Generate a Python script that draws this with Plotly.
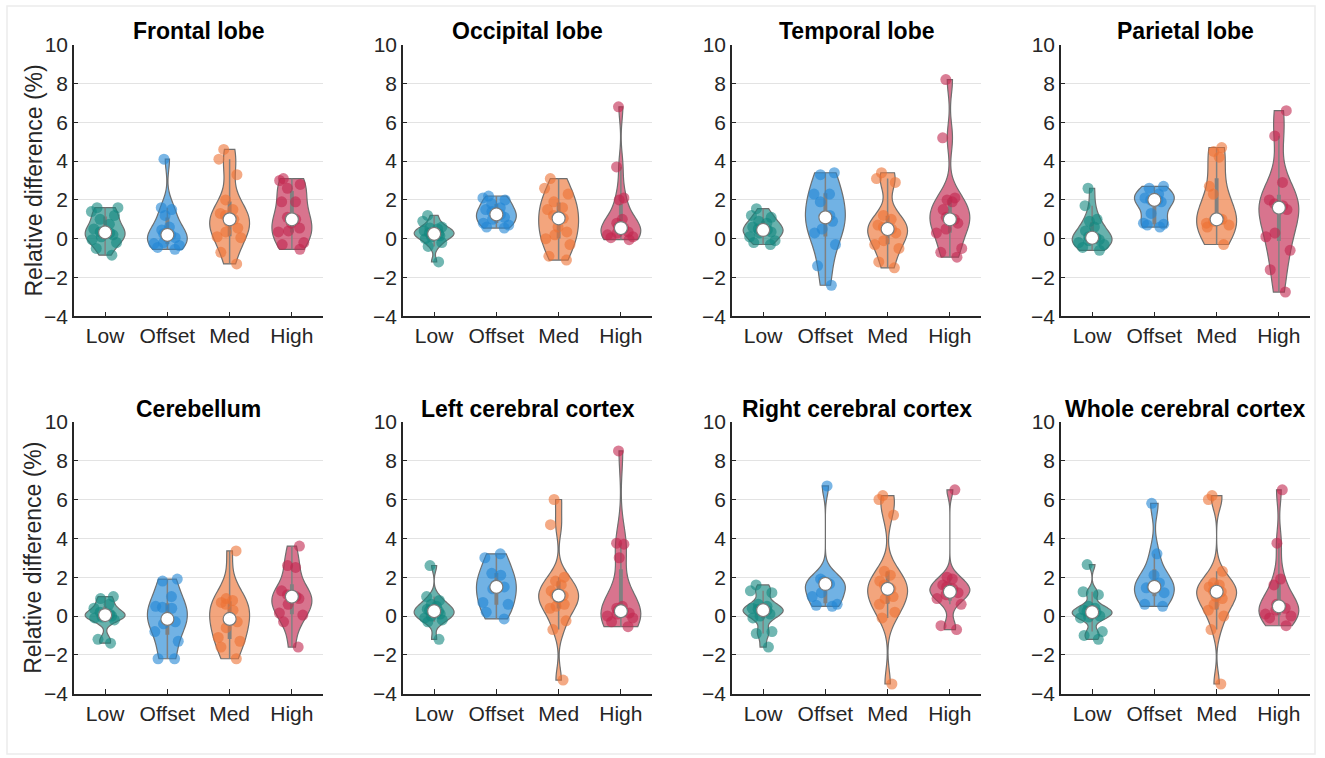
import numpy as np
import plotly.graph_objects as go

W, H = 1325, 758

titles = ["Frontal lobe", "Occipital lobe", "Temporal lobe", "Parietal lobe",
          "Cerebellum", "Left cerebral cortex", "Right cerebral cortex", "Whole cerebral cortex"]
groups = ["Low", "Offset", "Med", "High"]
colors = ["#12877f", "#2186d4", "#ec7234", "#c2264e"]
y_ticks = [-4, -2, 0, 2, 4, 6, 8, 10]

# Frontal lobe
frontal_low = [1.6, 1.6, 1.4, 1.2, 1.0, 0.75, 0.5, 0.35, 0.3, 0.25, 0.2, 0.1, -0.05, -0.2, -0.5, -0.85]
frontal_offset = [4.1, 1.6, 1.5, 1.2, 0.6, 0.45, 0.25, 0.2, 0.1, 0.05, -0.2, -0.25, -0.35, -0.45, -0.55]
frontal_med = [4.6, 4.1, 3.3, 2.0, 1.5, 1.3, 1.2, 1.0, 0.85, 0.55, 0.35, 0.1, 0.05, -0.7, -1.3]
frontal_high = [3.1, 3.0, 2.8, 2.6, 1.9, 1.9, 1.1, 1.0, 0.8, 0.55, 0.4, 0.35, -0.2, -0.3, -0.55]
# Occipital lobe
occipital_low = [1.2, 0.9, 0.6, 0.55, 0.5, 0.4, 0.3, 0.25, 0.2, 0.15, 0.1, 0.0, -0.2, -0.4, -1.2]
occipital_offset = [2.2, 2.1, 2.0, 1.8, 1.6, 1.5, 1.4, 1.25, 1.2, 1.1, 1.0, 0.8, 0.7, 0.6, 0.55]
occipital_med = [3.1, 2.6, 2.3, 1.9, 1.6, 1.5, 1.2, 1.05, 0.6, 0.35, 0.2, 0.0, -0.3, -0.9, -1.1]
occipital_high = [6.8, 3.7, 2.1, 2.0, 1.0, 0.8, 0.6, 0.55, 0.45, 0.35, 0.3, 0.2, 0.1, 0.05, -0.05]
# Temporal lobe
temporal_low = [1.55, 1.2, 1.1, 0.9, 0.8, 0.6, 0.5, 0.45, 0.4, 0.35, 0.3, 0.1, -0.1, -0.2, -0.3]
temporal_offset = [3.4, 3.3, 2.3, 2.3, 1.9, 1.2, 1.1, 0.9, 0.5, 0.3, -0.3, -1.4, -2.4]
temporal_med = [3.4, 3.1, 2.9, 1.2, 1.0, 0.7, 0.6, 0.5, 0.4, 0.3, -0.1, -0.3, -0.5, -1.2, -1.5]
temporal_high = [8.2, 5.2, 2.1, 2.0, 1.9, 1.5, 1.1, 1.0, 0.95, 0.8, 0.5, 0.3, -0.5, -0.7, -0.95]
# Parietal lobe
parietal_low = [2.6, 1.7, 1.0, 0.9, 0.6, 0.4, 0.1, 0.05, 0.0, -0.05, -0.1, -0.2, -0.3, -0.45, -0.6]
parietal_offset = [2.7, 2.6, 2.3, 2.1, 2.0, 2.0, 2.0, 1.9, 1.3, 0.8, 0.75, 0.7, 0.6]
parietal_med = [4.7, 4.5, 4.2, 2.7, 2.3, 1.0, 1.0, 1.0, 0.9, 0.8, 0.7, 0.6, -0.3]
parietal_high = [6.6, 5.3, 2.9, 2.0, 1.8, 1.7, 1.6, 1.5, 0.3, 0.1, -0.6, -1.6, -2.75]
# Cerebellum
cerebellum_low = [1.0, 0.9, 0.6, 0.4, 0.2, 0.1, 0.05, 0.0, -0.05, -0.1, -0.2, -1.2, -1.4]
cerebellum_offset = [1.9, 1.8, 1.0, 0.5, 0.45, 0.4, -0.15, -0.3, -0.4, -0.8, -1.3, -2.2, -2.2]
cerebellum_med = [3.35, 0.9, 0.8, 0.7, 0.6, 0.3, -0.15, -0.3, -0.6, -1.1, -1.3, -1.6, -2.2]
cerebellum_high = [3.6, 2.6, 2.5, 1.3, 1.1, 1.0, 1.0, 0.9, 0.6, 0.15, 0.05, -0.3, -1.6]
# Left cerebral cortex
left_low = [2.6, 1.0, 0.8, 0.6, 0.5, 0.35, 0.3, 0.25, 0.2, 0.1, 0.0, -0.1, -0.2, -0.3, -1.2]
left_offset = [3.2, 3.0, 2.2, 2.1, 1.6, 1.5, 1.4, 0.7, 0.6, 0.2, -0.15]
left_med = [6.0, 4.7, 2.0, 1.8, 1.6, 1.3, 1.1, 1.05, 0.9, 0.6, 0.5, 0.4, -0.25, -0.7, -3.3]
left_high = [8.5, 3.75, 3.7, 3.0, 0.5, 0.4, 0.3, 0.25, 0.2, 0.15, 0.1, 0.0, -0.1, -0.3, -0.55]
# Right cerebral cortex
right_low = [1.6, 1.3, 1.2, 0.6, 0.5, 0.4, 0.35, 0.3, 0.25, 0.1, 0.0, -0.1, -0.8, -0.9, -1.6]
right_offset = [6.7, 1.9, 1.8, 1.7, 1.65, 1.65, 1.2, 1.0, 0.6, 0.55, 0.5]
right_med = [6.2, 6.0, 5.2, 2.3, 2.1, 1.8, 1.6, 1.4, 1.3, 1.0, 0.9, 0.6, 0.2, -0.1, -3.5]
right_high = [6.5, 2.0, 1.9, 1.6, 1.5, 1.4, 1.25, 1.2, 1.1, 0.9, 0.6, -0.5, -0.7]
# Whole cerebral cortex
whole_low = [2.65, 1.25, 1.1, 0.5, 0.4, 0.3, 0.25, 0.2, 0.1, 0.0, -0.05, -0.1, -0.8, -1.0, -1.2]
whole_offset = [5.8, 3.2, 2.1, 1.7, 1.5, 1.45, 1.2, 0.6, 0.5]
whole_med = [6.2, 6.0, 2.3, 1.7, 1.6, 1.5, 1.3, 1.25, 1.0, 0.9, 0.6, 0.3, 0.0, -0.7, -3.5]
whole_high = [6.5, 3.75, 1.9, 1.6, 0.6, 0.5, 0.5, 0.4, 0.3, 0.1, 0.0, -0.1, -0.5]

panels = [
    [frontal_low, frontal_offset, frontal_med, frontal_high],
    [occipital_low, occipital_offset, occipital_med, occipital_high],
    [temporal_low, temporal_offset, temporal_med, temporal_high],
    [parietal_low, parietal_offset, parietal_med, parietal_high],
    [cerebellum_low, cerebellum_offset, cerebellum_med, cerebellum_high],
    [left_low, left_offset, left_med, left_high],
    [right_low, right_offset, right_med, right_high],
    [whole_low, whole_offset, whole_med, whole_high],
]


def hex_rgba(h, a):
    h = h.lstrip("#")
    r, g, b = int(h[0:2], 16), int(h[2:4], 16), int(h[4:6], 16)
    return f"rgba({r},{g},{b},{a})"


col_px = [(74, 323), (403, 652), (732, 981), (1061, 1310)]
row_px = [(44.7, 316.3), (421.8, 693.7)]
title_y_px = [31, 409]

FONT = "Liberation Sans, Arial, Helvetica, sans-serif"
fig = go.Figure()
layout = dict(
    width=W, height=H, autosize=False, margin=dict(l=0, r=0, t=0, b=0, pad=0),
    paper_bgcolor="white", plot_bgcolor="white", showlegend=False,
    font=dict(family=FONT, color="#262626", size=21),
    violinmode="overlay",
)
annotations = []

for p, data in enumerate(panels):
    r, c = divmod(p, 4)
    idx = p + 1
    xa = "x" if idx == 1 else f"x{idx}"
    ya = "y" if idx == 1 else f"y{idx}"
    x0, x1 = col_px[c]
    yt, yb = row_px[r]
    layout[f"xaxis{'' if idx == 1 else idx}"] = dict(
        domain=[x0 / W, x1 / W], anchor=ya, range=[0.5, 4.5],
        tickmode="array", tickvals=[1, 2, 3, 4], ticktext=groups,
        ticks="inside", ticklen=5, tickwidth=1, tickcolor="#262626",
        showline=True, linecolor="#262626", linewidth=1.5, mirror=False,
        showgrid=False, zeroline=False, fixedrange=True, automargin=False,
        tickfont=dict(size=21, color="#262626"),
    )
    layout[f"yaxis{'' if idx == 1 else idx}"] = dict(
        domain=[1 - yb / H, 1 - yt / H], anchor=xa, range=[-4, 10],
        tickmode="array", tickvals=y_ticks,
        ticks="inside", ticklen=4, tickwidth=1, tickcolor="#262626",
        showline=True, linecolor="#262626", linewidth=1.5,
        showgrid=True, gridcolor="#e3e3e3", gridwidth=1.2,
        zeroline=False, fixedrange=True, automargin=False,
        tickfont=dict(size=21, color="#262626"),
    )
    for g, vals in enumerate(data):
        col = colors[g]
        fig.add_trace(go.Violin(
            x=[g + 1] * len(vals), y=vals, xaxis=xa, yaxis=ya,
            width=0.64, scalemode="width", spanmode="hard",
            fillcolor=hex_rgba(col, 0.64), line=dict(color="#6e6e6e", width=1.2),
            points="all", pointpos=0, jitter=0.8,
            marker=dict(color=hex_rgba(col, 0.6), size=11, line=dict(width=0)),
            box=dict(visible=True, width=0.06, fillcolor="#808080",
                     line=dict(color="#808080", width=1.5)),
            meanline=dict(visible=False),
            hoverinfo="y", name=groups[g],
        ))
        fig.add_trace(go.Scatter(
            x=[g + 1], y=[float(np.median(vals))], xaxis=xa, yaxis=ya,
            mode="markers",
            marker=dict(color="white", size=13, line=dict(color="#7a7a7a", width=1.2)),
            hoverinfo="skip",
        ))
    annotations.append(dict(
        text=f"<b>{titles[p]}</b>", x=(x0 + x1) / 2 / W, y=1 - title_y_px[r] / H,
        xref="paper", yref="paper", showarrow=False, xanchor="center", yanchor="middle",
        font=dict(size=23, color="#000000", family=FONT),
    ))

for r in range(2):
    yt, yb = row_px[r]
    annotations.append(dict(
        text="Relative difference (%)", x=33 / W, y=1 - ((yt + yb) / 2) / H,
        xref="paper", yref="paper", showarrow=False, textangle=-90,
        xanchor="center", yanchor="middle",
        font=dict(size=23, color="#262626", family=FONT),
    ))

layout["annotations"] = annotations
layout["shapes"] = [dict(type="rect", xref="paper", yref="paper",
                         x0=7 / W, x1=1315 / W, y0=1 - 754 / H, y1=1 - 6 / H,
                         line=dict(color="#ececec", width=1.5), layer="below")]
fig.update_layout(**layout)
fig.write_html(
    "out.html",
    config={"responsive": False, "displayModeBar": False},
    post_script="document.body.style.margin='0';document.body.style.padding='0';"
                "document.documentElement.style.overflow='hidden';",
)
